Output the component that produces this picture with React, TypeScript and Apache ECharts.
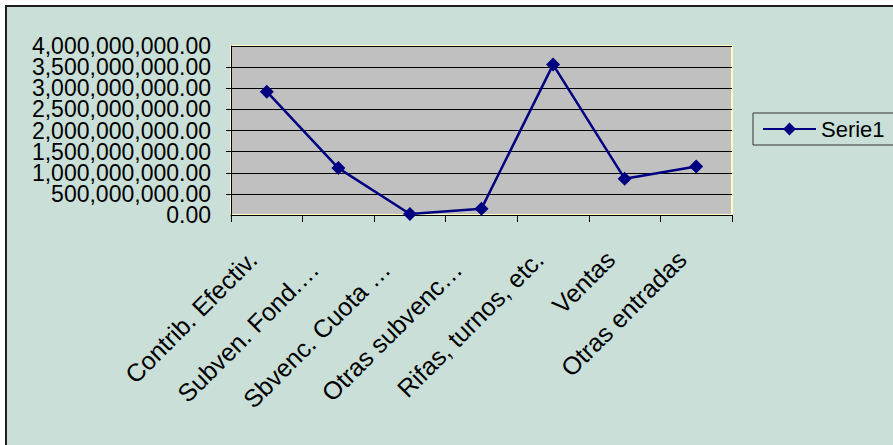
import React, { useEffect, useRef } from "react";
import * as echarts from "echarts";

const categories = [
  "Contrib. Efectiv.",
  "Subven. Fond.…",
  "Sbvenc. Cuota …",
  "Otras subvenc…",
  "Rifas, turnos, etc.",
  "Ventas",
  "Otras entradas",
];
const serieName = "Serie1";
const serie1 = [2920000000, 1110000000, 25000000, 150000000, 3560000000, 860000000, 1150000000];
const yMin = 0;
const yMax = 4000000000;
const yStep = 500000000;

const FONT = "'Liberation Sans', Arial, sans-serif";

// truncated labels sit a little further along their slant in the reference
const isTruncated = (s: string) => s.endsWith("…");

const fmt = (v: number) =>
  v.toLocaleString("en-US", { minimumFractionDigits: 2, maximumFractionDigits: 2 });

export default function App() {
  const ref = useRef<HTMLDivElement>(null);
  useEffect(() => {
    if (!ref.current) return;
    const chart = echarts.init(ref.current, null, { renderer: "svg" });
    const labelStyle = {
      fontSize: 23,
      color: "#000",
      fontFamily: FONT,
      margin: 20,
      hideOverlap: false,
    };
    chart.setOption({
      animation: false,
      backgroundColor: "transparent",
      textStyle: { fontFamily: FONT },
      grid: {
        left: 231,
        top: 46,
        right: 893 - 732,
        bottom: 445 - 215,
        show: true,
        backgroundColor: "#C0C0C0",
        borderColor: "#FFFFC0",
        borderWidth: 2,
        containLabel: false,
      },
      legend: {
        left: 753,
        top: 113,
        padding: [5, 30, 5, 9],
        itemWidth: 53,
        itemHeight: 16,
        borderColor: "#333333",
        borderWidth: 1,
        backgroundColor: "transparent",
        textStyle: { fontSize: 22, color: "#000", fontFamily: FONT },
        data: [serieName],
      },
      xAxis: {
        type: "category",
        data: categories.map((c) =>
          isTruncated(c) ? { value: c, textStyle: { padding: [0, 34, 0, 0] } } : c
        ),
        boundaryGap: true,
        axisLine: { show: true, lineStyle: { color: "#000", width: 1 } },
        axisTick: { show: true, length: 7, lineStyle: { color: "#000" } },
        splitLine: { show: false },
        axisLabel: {
          rotate: 45,
          interval: 0,
          fontSize: 25,
          color: "#000",
          fontFamily: FONT,
          margin: 26,
          padding: [0, 20, 0, 0],
          hideOverlap: false,
        },
      },
      yAxis: [
        {
          type: "value",
          min: yMin,
          max: yMax,
          interval: yStep,
          axisLine: { show: true, lineStyle: { color: "#000", width: 1 } },
          axisTick: { show: true, length: 5, lineStyle: { color: "#000" } },
          splitLine: { show: true, lineStyle: { color: "#000", width: 1 } },
          axisLabel: {
            ...labelStyle,
            showMinLabel: false,
            showMaxLabel: false,
            formatter: fmt,
          },
        },
        {
          type: "value",
          position: "left",
          min: yMin,
          max: yMax,
          interval: yStep,
          axisLine: { show: false },
          axisTick: { show: false },
          splitLine: { show: false },
          axisLabel: {
            ...labelStyle,
            showMinLabel: true,
            showMaxLabel: true,
            formatter: (v: number) => (v === yMin || v === yMax ? fmt(v) : ""),
          },
        },
      ],
      series: [
        {
          name: serieName,
          type: "line",
          yAxisIndex: 0,
          data: serie1,
          symbol: "diamond",
          symbolSize: 14,
          lineStyle: { color: "#000080", width: 2.5 },
          itemStyle: { color: "#000080" },
        },
      ],
    });
    return () => chart.dispose();
  }, []);

  return (
    <div
      style={{
        position: "fixed",
        left: 0,
        top: 0,
        width: 893,
        height: 445,
        background: "#ffffff",
        overflow: "hidden",
      }}
    >
      <div
        style={{
          position: "absolute",
          left: 5,
          top: 5,
          width: 1000,
          height: 1000,
          background: "#C9DFD7",
          borderLeft: "2px solid #1e1e1e",
          borderTop: "2px solid #1e1e1e",
        }}
      />
      <div ref={ref} style={{ position: "absolute", left: 0, top: 0, width: 893, height: 445 }} />
    </div>
  );
}
